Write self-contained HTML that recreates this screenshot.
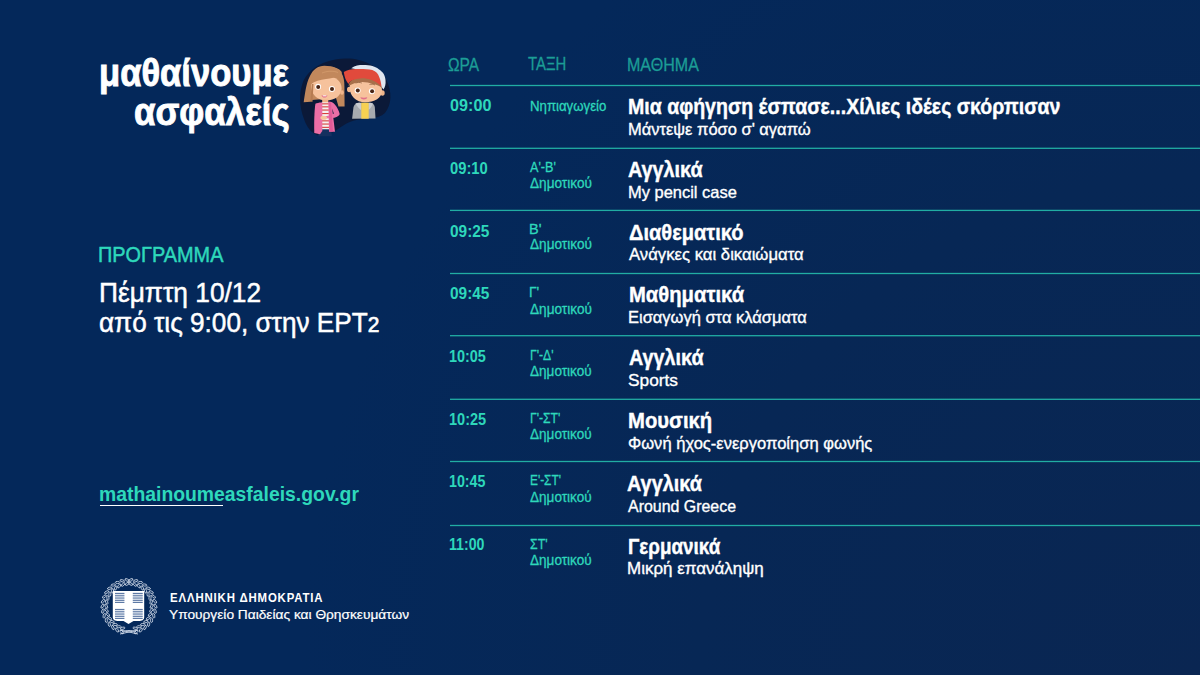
<!DOCTYPE html>
<html><head><meta charset="utf-8">
<style>
html,body{margin:0;padding:0;}
body{width:1200px;height:675px;background:radial-gradient(circle at 100% 100%, #0a2652 0px, #072755 500px, #04285a 900px);position:relative;overflow:hidden;font-family:"Liberation Sans",sans-serif;}
.t{position:absolute;white-space:nowrap;transform-origin:0 0;}
.ln{position:absolute;left:450px;width:750px;height:1.5px;background:#1fa9a0;}
.ul{position:absolute;left:100px;top:504.6px;width:123px;height:1.5px;background:#fff;}
svg{position:absolute;}
</style></head><body>
<svg style="left:0;top:0" width="1200" height="675" viewBox="0 0 1200 675"><rect x="450" y="84.85" width="750" height="1.3" fill="#21ada3"/><rect x="450" y="147.65" width="750" height="1.3" fill="#21ada3"/><rect x="450" y="209.75" width="750" height="1.3" fill="#21ada3"/><rect x="450" y="272.85" width="750" height="1.3" fill="#21ada3"/><rect x="450" y="335.05" width="750" height="1.3" fill="#21ada3"/><rect x="450" y="398.65" width="750" height="1.3" fill="#21ada3"/><rect x="450" y="460.85" width="750" height="1.3" fill="#21ada3"/><rect x="450" y="524.85" width="750" height="1.3" fill="#21ada3"/></svg>
<div class="ul"></div>
<svg style="left:290px;top:45px" width="120" height="100" viewBox="290 45 120 100">
  <path d="M345 58.5 C362 58 379 66 386.5 80 C392 92 392 104 385 113 C378 120 364 118 354 120.5 C344 123 337 131 327 135.5 C316 138 308 131 304 119 C299 106 299 92 303 82 C310 66 328 59 345 58.5 Z" fill="#0b1938"/>
  <!-- boy -->
  <path d="M352.1 118.8 L353.5 107 C354.5 104 356.5 102.7 359.5 102.7 L369.5 102.7 C372.5 102.7 374 104 374.8 107 L375.5 118.5 Z" fill="#a7aaaf"/>
  <path d="M355.5 103.5 C357 102.8 359 102.5 361 103 L361 110 C359 108.5 357 106.5 355.5 103.5 Z M373 103.5 C371.5 102.8 370 102.5 368.5 103 L368.5 110 C370.5 108.5 372 106.5 373 103.5 Z" fill="#c8cbd0"/>
  <rect x="361.3" y="102.7" width="7.4" height="16" fill="#f7d152"/>
  <ellipse cx="349.2" cy="89.5" rx="2.2" ry="2.8" fill="#f0b48a"/>
  <ellipse cx="382.5" cy="93" rx="2.2" ry="2.8" fill="#f0b48a"/>
  <path d="M349.6 87 C349.6 80 356 78.5 365.5 78.5 C375.5 79 382 82 382 90.5 C382 98 374.5 102.3 365 102.3 C356 102.3 349.6 96 349.6 87 Z" fill="#f6c29c"/>
  <path d="M348.5 86 C349 80 355 77 365 77 C375 77 381 80.5 381.8 88 C379 85.5 376 84.5 373 84.3 C368.5 82.5 363 81.5 358 82.5 C354 83 351 84.5 348.5 86 Z" fill="#a8704a"/>
  <path d="M351.2 68.3 C355 65.5 359 65 363.1 65 C370 65 376 66.5 378.8 69.2 C383 72 385.2 75 385.5 80 C386 84 385 87.5 383.4 89.4 L381.5 86.7 L376 73 Z" fill="#dfe6f0"/>
  <path d="M343.8 72 C347 70 351 69.2 355.8 69 C362 68.8 368 69 372.3 70.1 C376 71.5 378.3 74 379.2 77 C380.5 80 381.2 83.5 381.5 86.7 C378 83 375 81.2 372.3 80.2 C368 78.8 364 78.2 360.4 78.4 C356.5 78.8 354 79.2 352.1 80.2 C350.5 81 349.3 82.3 348.4 83.9 C346 81 344.5 77.5 343.8 72 Z" fill="#e14a3c"/>
  <path d="M355.6 83.2 C357 82.2 360 82.2 361.8 83 M369.5 84.5 C371 84 373.5 84 375 85" stroke="#9a6a48" stroke-width="0.9" fill="none"/>
  <circle cx="357.6" cy="90.4" r="3.0" fill="#fff"/><circle cx="357.8" cy="90.5" r="2.0" fill="#4a2414"/>
  <circle cx="371.9" cy="91.2" r="3.0" fill="#fff"/><circle cx="372.1" cy="91.3" r="2.0" fill="#4a2414"/>
  <path d="M360.4 97.3 C362.5 97.9 365.5 97.9 367.3 97.3 C366.8 100.3 361 100.3 360.4 97.3 Z" fill="#e2708a"/>
  <!-- girl -->
  <path d="M303.7 102.2 C305 94 306 84 309.6 76.8 C313 69 318 65.7 324.4 65.7 C333 65.7 339 68.5 341.5 73 C343.8 77 344.4 81 344.4 86 L344.6 106.4 L338.5 106.4 L336 98 L312 100 L310.4 101.8 Z" fill="#c2885c"/>
  <path d="M311 86 C311 80 317 76.5 326.5 76.5 C336 76.5 341.6 81 341.6 88.5 C341.6 95.5 335 100.5 326 100.5 C317 100.5 311 94 311 86 Z" fill="#f6c29c"/>
  <ellipse cx="342" cy="92.5" rx="1.8" ry="2.3" fill="#f0b48a"/>
  <path d="M310.5 84.5 C315 81 320 79.8 326 79 C331 78.2 336 77.5 338.5 76 L340 82 L341.8 72 C338 67 330 66 322 67.5 C315 69 311 75 310.5 84.5 Z" fill="#c2885c"/>
  <path d="M310.4 101.8 L311.8 84 L313.5 84 L312.5 101.8 Z" fill="#b67c52"/>
  <path d="M322 73 C327 71 333 70.5 338 72.5" stroke="#d29a6b" stroke-width="0.9" fill="none"/>
  <rect x="322.2" y="99.5" width="6" height="3.5" fill="#f0b48a"/>
  <circle cx="318.1" cy="86.8" r="3.0" fill="#fff"/><circle cx="318.2" cy="86.9" r="2.0" fill="#4a2414"/>
  <circle cx="331.9" cy="89" r="3.0" fill="#fff"/><circle cx="332" cy="89.1" r="2.0" fill="#4a2414"/>
  <path d="M321.5 95.2 C323.5 95.8 325.5 95.8 327.4 95.2 C327 98.4 322 98.4 321.5 95.2 Z" fill="#e2708a"/>
  <rect x="322.8" y="95.4" width="3.6" height="0.9" fill="#fff"/>
  <rect x="318.3" y="129" width="13.4" height="7.3" fill="#15305f"/>
  <rect x="321.7" y="102.3" width="8" height="27" fill="#f4f0f0"/>
  <g fill="#d8413b">
  <rect x="321.7" y="103.3" width="8" height="1.1"/>
  <rect x="321.7" y="106.3" width="8" height="1.1"/>
  <rect x="321.7" y="109.5" width="8" height="1.1"/>
  <rect x="321.7" y="113" width="8" height="1.1"/>
  <rect x="321.7" y="116.6" width="8" height="1.1"/>
  <rect x="321.7" y="120.3" width="8" height="1.1"/>
  <rect x="321.7" y="123.5" width="8" height="1.1"/>
  <rect x="321.7" y="126.8" width="8" height="1.1"/>
  </g>
  <path d="M315.4 103.8 C317 103 319.5 102.3 322.3 102.5 L322.3 131 L320 134.3 L314.3 133 C314 122 314.3 111 315.4 103.8 Z" fill="#ec6ea5"/>
  <path d="M328.3 101.5 C331 101.5 333.5 102.5 334.8 104.5 C337 107 339 110.5 339.7 114 C339.3 116 336 117.5 331 118.5 L323 118.3 L323 116.8 L331.7 115 L333.8 113.5 L332.2 108.5 L335 131.7 L329 131.7 Z" fill="#ec6ea5"/>
  <path d="M328.8 102 L331 102.5 L333 131.5 L329.5 131.5 Z" fill="#e35b97"/>
  <ellipse cx="323.7" cy="117.7" rx="3.3" ry="2" fill="#f6c29c"/>
</svg>
<svg style="left:95px;top:572px" width="70" height="70" viewBox="95 572 70 70">
  <g fill="none" stroke="#d5deec" stroke-width="0.8">
<ellipse cx="135.21" cy="628.27" rx="2.3" ry="1.05" transform="rotate(194.0 135.21 628.27)"/>
<ellipse cx="136.25" cy="631.92" rx="2.3" ry="1.05" transform="rotate(134.0 136.25 631.92)"/>
<ellipse cx="139.14" cy="626.74" rx="2.3" ry="1.05" transform="rotate(183.3 139.14 626.74)"/>
<ellipse cx="140.84" cy="630.13" rx="2.3" ry="1.05" transform="rotate(123.3 140.84 630.13)"/>
<ellipse cx="142.72" cy="624.50" rx="2.3" ry="1.05" transform="rotate(172.7 142.72 624.50)"/>
<ellipse cx="145.02" cy="627.52" rx="2.3" ry="1.05" transform="rotate(112.7 145.02 627.52)"/>
<ellipse cx="145.82" cy="621.64" rx="2.3" ry="1.05" transform="rotate(162.0 145.82 621.64)"/>
<ellipse cx="148.64" cy="624.18" rx="2.3" ry="1.05" transform="rotate(102.0 148.64 624.18)"/>
<ellipse cx="148.34" cy="618.25" rx="2.3" ry="1.05" transform="rotate(151.3 148.34 618.25)"/>
<ellipse cx="151.59" cy="620.23" rx="2.3" ry="1.05" transform="rotate(91.3 151.59 620.23)"/>
<ellipse cx="150.19" cy="614.46" rx="2.3" ry="1.05" transform="rotate(140.7 150.19 614.46)"/>
<ellipse cx="153.74" cy="615.80" rx="2.3" ry="1.05" transform="rotate(80.7 153.74 615.80)"/>
<ellipse cx="151.31" cy="610.39" rx="2.3" ry="1.05" transform="rotate(130.0 151.31 610.39)"/>
<ellipse cx="155.05" cy="611.05" rx="2.3" ry="1.05" transform="rotate(70.0 155.05 611.05)"/>
<ellipse cx="151.65" cy="606.19" rx="2.3" ry="1.05" transform="rotate(119.3 151.65 606.19)"/>
<ellipse cx="155.45" cy="606.14" rx="2.3" ry="1.05" transform="rotate(59.3 155.45 606.14)"/>
<ellipse cx="151.21" cy="601.99" rx="2.3" ry="1.05" transform="rotate(108.7 151.21 601.99)"/>
<ellipse cx="154.93" cy="601.24" rx="2.3" ry="1.05" transform="rotate(48.7 154.93 601.24)"/>
<ellipse cx="150.00" cy="597.95" rx="2.3" ry="1.05" transform="rotate(98.0 150.00 597.95)"/>
<ellipse cx="153.52" cy="596.52" rx="2.3" ry="1.05" transform="rotate(38.0 153.52 596.52)"/>
<ellipse cx="148.06" cy="594.20" rx="2.3" ry="1.05" transform="rotate(87.3 148.06 594.20)"/>
<ellipse cx="151.26" cy="592.15" rx="2.3" ry="1.05" transform="rotate(27.3 151.26 592.15)"/>
<ellipse cx="145.46" cy="590.87" rx="2.3" ry="1.05" transform="rotate(76.7 145.46 590.87)"/>
<ellipse cx="148.23" cy="588.26" rx="2.3" ry="1.05" transform="rotate(16.7 148.23 588.26)"/>
<ellipse cx="142.29" cy="588.09" rx="2.3" ry="1.05" transform="rotate(66.0 142.29 588.09)"/>
<ellipse cx="144.53" cy="585.01" rx="2.3" ry="1.05" transform="rotate(6.0 144.53 585.01)"/>
<ellipse cx="138.66" cy="585.93" rx="2.3" ry="1.05" transform="rotate(55.3 138.66 585.93)"/>
<ellipse cx="140.29" cy="582.50" rx="2.3" ry="1.05" transform="rotate(-4.7 140.29 582.50)"/>
<ellipse cx="134.70" cy="584.49" rx="2.3" ry="1.05" transform="rotate(44.7 134.70 584.49)"/>
<ellipse cx="135.66" cy="580.81" rx="2.3" ry="1.05" transform="rotate(-15.3 135.66 580.81)"/>
<ellipse cx="130.53" cy="583.81" rx="2.3" ry="1.05" transform="rotate(34.0 130.53 583.81)"/>
<ellipse cx="130.80" cy="580.01" rx="2.3" ry="1.05" transform="rotate(-26.0 130.80 580.01)"/>
<ellipse cx="122.69" cy="628.27" rx="2.3" ry="1.05" transform="rotate(166.0 122.69 628.27)"/>
<ellipse cx="121.65" cy="631.92" rx="2.3" ry="1.05" transform="rotate(226.0 121.65 631.92)"/>
<ellipse cx="118.76" cy="626.74" rx="2.3" ry="1.05" transform="rotate(176.7 118.76 626.74)"/>
<ellipse cx="117.06" cy="630.13" rx="2.3" ry="1.05" transform="rotate(236.7 117.06 630.13)"/>
<ellipse cx="115.18" cy="624.50" rx="2.3" ry="1.05" transform="rotate(187.3 115.18 624.50)"/>
<ellipse cx="112.88" cy="627.52" rx="2.3" ry="1.05" transform="rotate(247.3 112.88 627.52)"/>
<ellipse cx="112.08" cy="621.64" rx="2.3" ry="1.05" transform="rotate(198.0 112.08 621.64)"/>
<ellipse cx="109.26" cy="624.18" rx="2.3" ry="1.05" transform="rotate(258.0 109.26 624.18)"/>
<ellipse cx="109.56" cy="618.25" rx="2.3" ry="1.05" transform="rotate(208.7 109.56 618.25)"/>
<ellipse cx="106.31" cy="620.23" rx="2.3" ry="1.05" transform="rotate(268.7 106.31 620.23)"/>
<ellipse cx="107.71" cy="614.46" rx="2.3" ry="1.05" transform="rotate(219.3 107.71 614.46)"/>
<ellipse cx="104.16" cy="615.80" rx="2.3" ry="1.05" transform="rotate(279.3 104.16 615.80)"/>
<ellipse cx="106.59" cy="610.39" rx="2.3" ry="1.05" transform="rotate(230.0 106.59 610.39)"/>
<ellipse cx="102.85" cy="611.05" rx="2.3" ry="1.05" transform="rotate(290.0 102.85 611.05)"/>
<ellipse cx="106.25" cy="606.19" rx="2.3" ry="1.05" transform="rotate(240.7 106.25 606.19)"/>
<ellipse cx="102.45" cy="606.14" rx="2.3" ry="1.05" transform="rotate(300.7 102.45 606.14)"/>
<ellipse cx="106.69" cy="601.99" rx="2.3" ry="1.05" transform="rotate(251.3 106.69 601.99)"/>
<ellipse cx="102.97" cy="601.24" rx="2.3" ry="1.05" transform="rotate(311.3 102.97 601.24)"/>
<ellipse cx="107.90" cy="597.95" rx="2.3" ry="1.05" transform="rotate(262.0 107.90 597.95)"/>
<ellipse cx="104.38" cy="596.52" rx="2.3" ry="1.05" transform="rotate(322.0 104.38 596.52)"/>
<ellipse cx="109.84" cy="594.20" rx="2.3" ry="1.05" transform="rotate(272.7 109.84 594.20)"/>
<ellipse cx="106.64" cy="592.15" rx="2.3" ry="1.05" transform="rotate(332.7 106.64 592.15)"/>
<ellipse cx="112.44" cy="590.87" rx="2.3" ry="1.05" transform="rotate(283.3 112.44 590.87)"/>
<ellipse cx="109.67" cy="588.26" rx="2.3" ry="1.05" transform="rotate(343.3 109.67 588.26)"/>
<ellipse cx="115.61" cy="588.09" rx="2.3" ry="1.05" transform="rotate(294.0 115.61 588.09)"/>
<ellipse cx="113.37" cy="585.01" rx="2.3" ry="1.05" transform="rotate(354.0 113.37 585.01)"/>
<ellipse cx="119.24" cy="585.93" rx="2.3" ry="1.05" transform="rotate(304.7 119.24 585.93)"/>
<ellipse cx="117.61" cy="582.50" rx="2.3" ry="1.05" transform="rotate(364.7 117.61 582.50)"/>
<ellipse cx="123.20" cy="584.49" rx="2.3" ry="1.05" transform="rotate(315.3 123.20 584.49)"/>
<ellipse cx="122.24" cy="580.81" rx="2.3" ry="1.05" transform="rotate(375.3 122.24 580.81)"/>
<ellipse cx="127.37" cy="583.81" rx="2.3" ry="1.05" transform="rotate(326.0 127.37 583.81)"/>
<ellipse cx="127.10" cy="580.01" rx="2.3" ry="1.05" transform="rotate(386.0 127.10 580.01)"/>
</g>
  <path d="M122 632 C126 630 132 630 136 632 M120 630 L138 634 M138 630 L120 634" stroke="#d5deec" stroke-width="0.9" fill="none"/>
  <path d="M112.8 591.1 H144.2 V617 C144.2 620 142 621 138.5 621 H133.5 L128.5 624 L123.5 621 H118.5 C115 621 112.8 620 112.8 617 Z" fill="#fff"/>
  <g fill="#dde4ee">
  <rect x="115" y="592.3" width="9.4" height="10.3"/>
  <rect x="132.8" y="592.3" width="9.9" height="10.3"/>
  <rect x="115" y="608.5" width="9.4" height="10"/>
  <rect x="132.8" y="608.5" width="9.9" height="10"/>
  </g>
  <g fill="#4e6c9c">
  <rect x="115" y="593.0" width="9.4" height="0.9"/><rect x="132.8" y="593.0" width="9.9" height="0.9"/><rect x="115" y="595.3" width="9.4" height="0.9"/><rect x="132.8" y="595.3" width="9.9" height="0.9"/><rect x="115" y="597.6" width="9.4" height="0.9"/><rect x="132.8" y="597.6" width="9.9" height="0.9"/><rect x="115" y="599.9" width="9.4" height="0.9"/><rect x="132.8" y="599.9" width="9.9" height="0.9"/><rect x="115" y="602.0" width="9.4" height="0.9"/><rect x="132.8" y="602.0" width="9.9" height="0.9"/><rect x="115" y="609.0" width="9.4" height="0.9"/><rect x="132.8" y="609.0" width="9.9" height="0.9"/><rect x="115" y="611.3" width="9.4" height="0.9"/><rect x="132.8" y="611.3" width="9.9" height="0.9"/><rect x="115" y="613.6" width="9.4" height="0.9"/><rect x="132.8" y="613.6" width="9.9" height="0.9"/><rect x="115" y="615.9" width="9.4" height="0.9"/><rect x="132.8" y="615.9" width="9.9" height="0.9"/><rect x="115" y="618.0" width="9.4" height="0.9"/><rect x="132.8" y="618.0" width="9.9" height="0.9"/>
  </g>
</svg>
<div class="t" style="left:98.78px;top:53.87px;font-size:38.5px;line-height:38.5px;font-weight:bold;color:#fff;transform:scaleX(0.8980);-webkit-text-stroke:0.9px #fff;">μαθαίνουμε</div>
<div class="t" style="left:134.29px;top:93.47px;font-size:38.5px;line-height:38.5px;font-weight:bold;color:#fff;transform:scaleX(0.9074);-webkit-text-stroke:0.9px #fff;">ασφαλείς</div>
<div class="t" style="left:97.65px;top:243.80px;font-size:22px;line-height:22px;font-weight:normal;color:#2ed8bb;transform:scaleX(0.9031);-webkit-text-stroke:0.5px #2ed8bb;">ΠΡΟΓΡΑΜΜΑ</div>
<div class="t" style="left:98.72px;top:278.70px;font-size:28px;line-height:28px;font-weight:normal;color:#fff;transform:scaleX(0.9389);-webkit-text-stroke:0.5px #fff;">Πέμπτη 10/12</div>
<div class="t" style="left:99.17px;top:308.50px;font-size:28px;line-height:28px;font-weight:normal;color:#fff;transform:scaleX(0.9343);-webkit-text-stroke:0.5px #fff;">από τις 9:00, στην ΕΡΤ<span style="font-size:0.8em;-webkit-text-stroke:0.7px #fff">2</span></div>
<div class="t" style="left:99.39px;top:483.80px;font-size:20px;line-height:20px;font-weight:bold;color:#2ed8bb;transform:scaleX(0.9678);">mathainoumeasfaleis.gov.gr</div>
<div class="t" style="left:169.69px;top:591.50px;font-size:12px;line-height:12px;font-weight:bold;color:#fff;transform:scaleX(0.9505);letter-spacing:0.9px;">ΕΛΛΗΝΙΚΗ ΔΗΜΟΚΡΑΤΙΑ</div>
<div class="t" style="left:169.33px;top:609.12px;font-size:12.8px;line-height:12.8px;font-weight:normal;color:#fff;transform:scaleX(1.0723);-webkit-text-stroke:0.2px #fff;">Υπουργείο Παιδείας και Θρησκευμάτων</div>
<div class="t" style="left:447.58px;top:55.77px;font-size:18.5px;line-height:18.5px;font-weight:normal;color:#1c9d96;transform:scaleX(0.8381);-webkit-text-stroke:0.3px #1c9d96;">ΩΡΑ</div>
<div class="t" style="left:527.80px;top:54.98px;font-size:18.5px;line-height:18.5px;font-weight:normal;color:#1c9d96;transform:scaleX(0.8043);-webkit-text-stroke:0.3px #1c9d96;">ΤΑΞΗ</div>
<div class="t" style="left:627.22px;top:55.77px;font-size:18.5px;line-height:18.5px;font-weight:normal;color:#1c9d96;transform:scaleX(0.8673);-webkit-text-stroke:0.3px #1c9d96;">ΜΑΘΗΜΑ</div>
<div class="t" style="left:450.31px;top:97.17px;font-size:16.5px;line-height:16.5px;font-weight:bold;color:#2ed8bb;transform:scaleX(0.9805);">09:00</div>
<div class="t" style="left:529.79px;top:98.88px;font-size:14.5px;line-height:14.5px;font-weight:normal;color:#2ed8bb;transform:scaleX(0.9119);-webkit-text-stroke:0.3px #2ed8bb;">Νηπιαγωγείο</div>
<div class="t" style="left:628.09px;top:96.20px;font-size:22px;line-height:22px;font-weight:bold;color:#fff;transform:scaleX(0.8882);-webkit-text-stroke:0.4px #fff;">Μια αφήγηση έσπασε...Χίλιες ιδέες σκόρπισαν</div>
<div class="t" style="left:627.75px;top:120.97px;font-size:16.5px;line-height:16.5px;font-weight:normal;color:#fff;transform:scaleX(0.9986);-webkit-text-stroke:0.35px #fff;">Μάντεψε πόσο σ' αγαπώ</div>
<div class="t" style="left:449.55px;top:159.89px;font-size:16.5px;line-height:16.5px;font-weight:bold;color:#2ed8bb;transform:scaleX(0.8951);">09:10</div>
<div class="t" style="left:530.02px;top:159.69px;font-size:14.5px;line-height:14.5px;font-weight:normal;color:#2ed8bb;transform:scaleX(0.8712);-webkit-text-stroke:0.3px #2ed8bb;">Α'-Β'</div>
<div class="t" style="left:529.57px;top:176.19px;font-size:14.5px;line-height:14.5px;font-weight:normal;color:#2ed8bb;transform:scaleX(0.9379);-webkit-text-stroke:0.3px #2ed8bb;">Δημοτικού</div>
<div class="t" style="left:628.27px;top:158.91px;font-size:22px;line-height:22px;font-weight:bold;color:#fff;transform:scaleX(0.9003);-webkit-text-stroke:0.4px #fff;">Αγγλικά</div>
<div class="t" style="left:627.75px;top:183.69px;font-size:16.5px;line-height:16.5px;font-weight:normal;color:#fff;transform:scaleX(0.9977);-webkit-text-stroke:0.35px #fff;">My pencil case</div>
<div class="t" style="left:449.53px;top:222.60px;font-size:16.5px;line-height:16.5px;font-weight:bold;color:#2ed8bb;transform:scaleX(0.9333);">09:25</div>
<div class="t" style="left:529.00px;top:222.40px;font-size:14.5px;line-height:14.5px;font-weight:normal;color:#2ed8bb;transform:scaleX(1.0000);-webkit-text-stroke:0.3px #2ed8bb;">Β'</div>
<div class="t" style="left:529.57px;top:237.40px;font-size:14.5px;line-height:14.5px;font-weight:normal;color:#2ed8bb;transform:scaleX(0.9379);-webkit-text-stroke:0.3px #2ed8bb;">Δημοτικού</div>
<div class="t" style="left:628.52px;top:221.63px;font-size:22px;line-height:22px;font-weight:bold;color:#fff;transform:scaleX(0.9119);-webkit-text-stroke:0.4px #fff;">Διαθεματικό</div>
<div class="t" style="left:628.95px;top:246.40px;font-size:16.5px;line-height:16.5px;font-weight:normal;color:#fff;transform:scaleX(1.0122);-webkit-text-stroke:0.35px #fff;">Ανάγκες και δικαιώματα</div>
<div class="t" style="left:449.53px;top:285.32px;font-size:16.5px;line-height:16.5px;font-weight:bold;color:#2ed8bb;transform:scaleX(0.9333);">09:45</div>
<div class="t" style="left:529.05px;top:285.12px;font-size:14.5px;line-height:14.5px;font-weight:normal;color:#2ed8bb;transform:scaleX(0.9514);-webkit-text-stroke:0.3px #2ed8bb;">Γ'</div>
<div class="t" style="left:529.57px;top:301.62px;font-size:14.5px;line-height:14.5px;font-weight:normal;color:#2ed8bb;transform:scaleX(0.9379);-webkit-text-stroke:0.3px #2ed8bb;">Δημοτικού</div>
<div class="t" style="left:628.55px;top:284.34px;font-size:22px;line-height:22px;font-weight:bold;color:#fff;transform:scaleX(0.9194);-webkit-text-stroke:0.4px #fff;">Μαθηματικά</div>
<div class="t" style="left:627.75px;top:309.12px;font-size:16.5px;line-height:16.5px;font-weight:normal;color:#fff;transform:scaleX(0.9989);-webkit-text-stroke:0.35px #fff;">Εισαγωγή στα κλάσματα</div>
<div class="t" style="left:449.13px;top:348.03px;font-size:16.5px;line-height:16.5px;font-weight:bold;color:#2ed8bb;transform:scaleX(0.8736);">10:05</div>
<div class="t" style="left:529.56px;top:347.83px;font-size:14.5px;line-height:14.5px;font-weight:normal;color:#2ed8bb;transform:scaleX(0.8377);-webkit-text-stroke:0.3px #2ed8bb;">Γ'-Δ'</div>
<div class="t" style="left:529.57px;top:364.33px;font-size:14.5px;line-height:14.5px;font-weight:normal;color:#2ed8bb;transform:scaleX(0.9349);-webkit-text-stroke:0.3px #2ed8bb;">Δημοτικού</div>
<div class="t" style="left:628.78px;top:347.06px;font-size:22px;line-height:22px;font-weight:bold;color:#fff;transform:scaleX(0.8991);-webkit-text-stroke:0.4px #fff;">Αγγλικά</div>
<div class="t" style="left:628.48px;top:371.83px;font-size:16.5px;line-height:16.5px;font-weight:normal;color:#fff;transform:scaleX(1.0481);-webkit-text-stroke:0.35px #fff;">Sports</div>
<div class="t" style="left:449.12px;top:410.75px;font-size:16.5px;line-height:16.5px;font-weight:bold;color:#2ed8bb;transform:scaleX(0.8810);">10:25</div>
<div class="t" style="left:529.56px;top:410.55px;font-size:14.5px;line-height:14.5px;font-weight:normal;color:#2ed8bb;transform:scaleX(0.8377);-webkit-text-stroke:0.3px #2ed8bb;">Γ'-ΣΤ'</div>
<div class="t" style="left:529.57px;top:427.05px;font-size:14.5px;line-height:14.5px;font-weight:normal;color:#2ed8bb;transform:scaleX(0.9349);-webkit-text-stroke:0.3px #2ed8bb;">Δημοτικού</div>
<div class="t" style="left:627.85px;top:409.77px;font-size:22px;line-height:22px;font-weight:bold;color:#fff;transform:scaleX(0.9213);-webkit-text-stroke:0.4px #fff;">Μουσική</div>
<div class="t" style="left:628.25px;top:434.55px;font-size:16.5px;line-height:16.5px;font-weight:normal;color:#fff;transform:scaleX(1.0027);-webkit-text-stroke:0.35px #fff;">Φωνή ήχος-ενεργοποίηση φωνής</div>
<div class="t" style="left:449.14px;top:473.46px;font-size:16.5px;line-height:16.5px;font-weight:bold;color:#2ed8bb;transform:scaleX(0.8638);">10:45</div>
<div class="t" style="left:529.58px;top:473.26px;font-size:14.5px;line-height:14.5px;font-weight:normal;color:#2ed8bb;transform:scaleX(0.8166);-webkit-text-stroke:0.3px #2ed8bb;">Ε'-ΣΤ'</div>
<div class="t" style="left:529.57px;top:489.76px;font-size:14.5px;line-height:14.5px;font-weight:normal;color:#2ed8bb;transform:scaleX(0.9349);-webkit-text-stroke:0.3px #2ed8bb;">Δημοτικού</div>
<div class="t" style="left:627.27px;top:473.48px;font-size:22px;line-height:22px;font-weight:bold;color:#fff;transform:scaleX(0.9027);-webkit-text-stroke:0.4px #fff;">Αγγλικά</div>
<div class="t" style="left:627.74px;top:497.76px;font-size:16.5px;line-height:16.5px;font-weight:normal;color:#fff;transform:scaleX(0.9655);-webkit-text-stroke:0.35px #fff;">Around Greece</div>
<div class="t" style="left:449.14px;top:536.17px;font-size:16.5px;line-height:16.5px;font-weight:bold;color:#2ed8bb;transform:scaleX(0.8579);">11:00</div>
<div class="t" style="left:529.97px;top:536.97px;font-size:14.5px;line-height:14.5px;font-weight:normal;color:#2ed8bb;transform:scaleX(0.8513);-webkit-text-stroke:0.3px #2ed8bb;">ΣΤ'</div>
<div class="t" style="left:529.57px;top:553.47px;font-size:14.5px;line-height:14.5px;font-weight:normal;color:#2ed8bb;transform:scaleX(0.9349);-webkit-text-stroke:0.3px #2ed8bb;">Δημοτικού</div>
<div class="t" style="left:627.63px;top:536.00px;font-size:22px;line-height:22px;font-weight:bold;color:#fff;transform:scaleX(0.8573);-webkit-text-stroke:0.4px #fff;">Γερμανικά</div>
<div class="t" style="left:627.41px;top:559.97px;font-size:16.5px;line-height:16.5px;font-weight:normal;color:#fff;transform:scaleX(1.0282);-webkit-text-stroke:0.35px #fff;">Μικρή επανάληψη</div>
</body></html>
